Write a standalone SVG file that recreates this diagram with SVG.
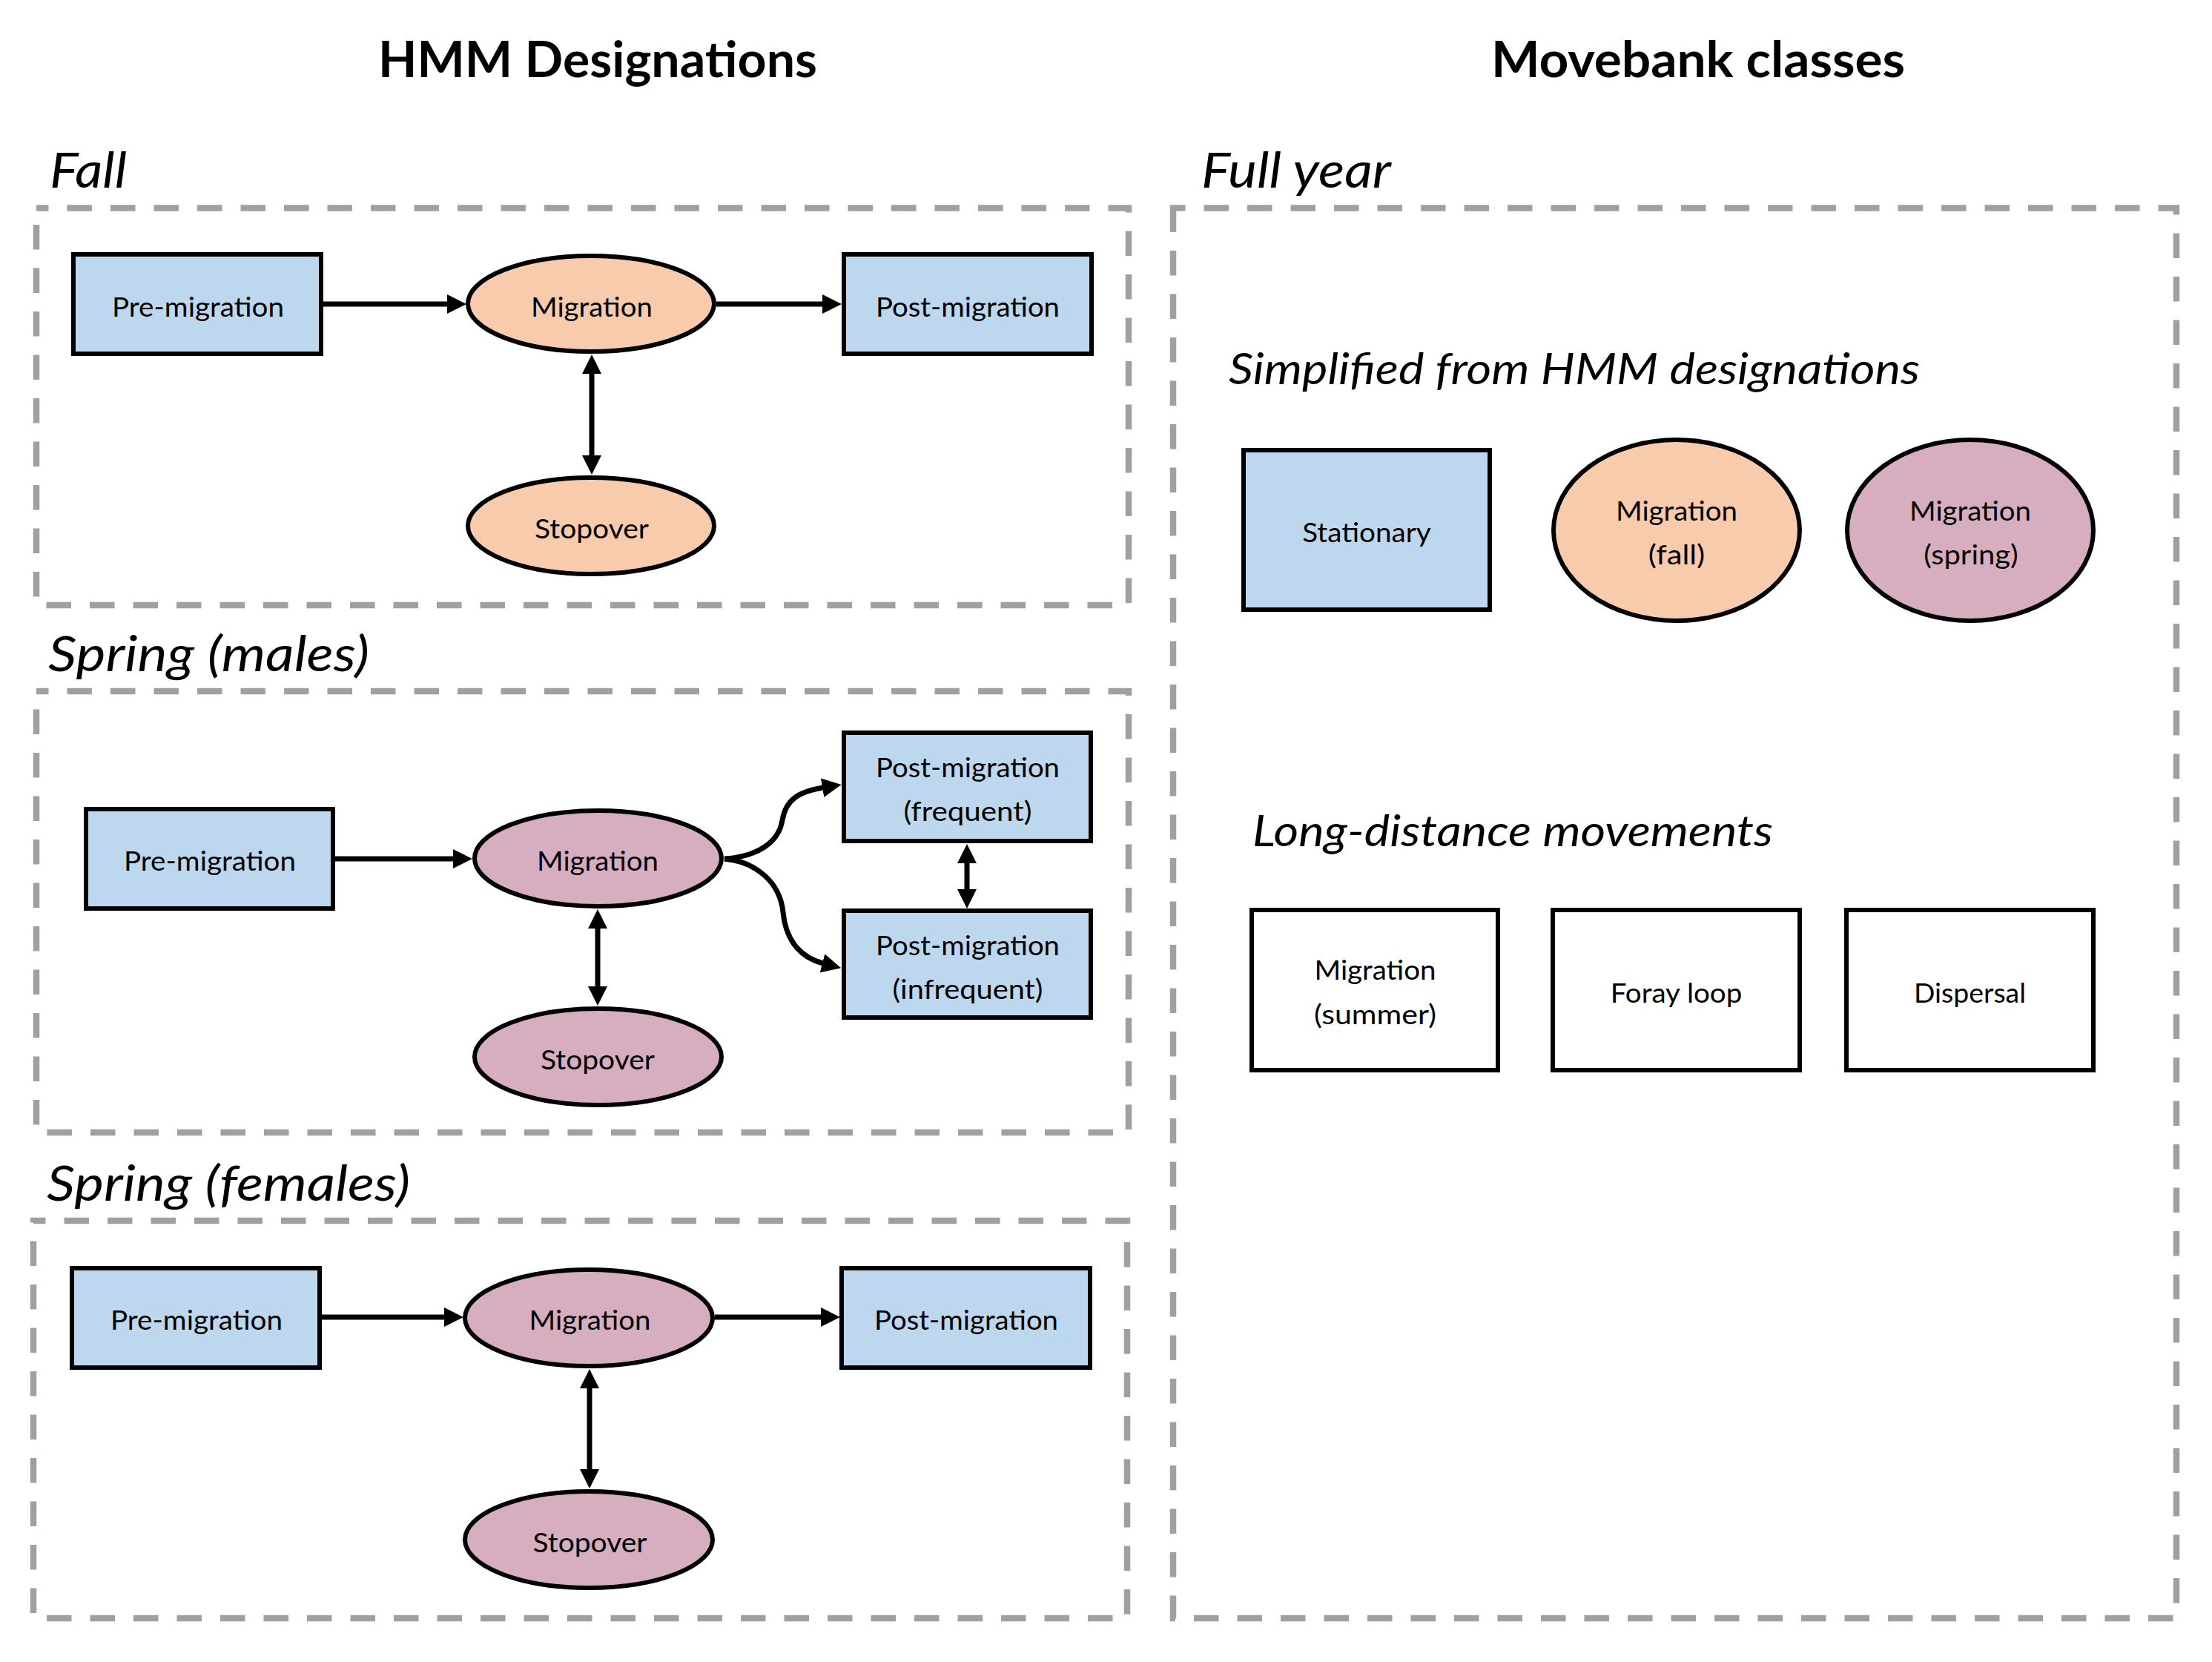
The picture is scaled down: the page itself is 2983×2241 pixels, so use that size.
<svg xmlns="http://www.w3.org/2000/svg" width="2983" height="2241" viewBox="0 0 2983 2241">
<defs>
<style>
.bg{fill:#ffffff}
.box{fill:none;stroke:#a0a0a0;stroke-width:8.5;stroke-dasharray:33.5 25;stroke-dashoffset:17}
.node{stroke:#000000;stroke-width:6}
.blue{fill:#bdd7ee}
.orange{fill:#f8cbad}
.mauve{fill:#d7adc0}
.white{fill:#ffffff}
.lbl{font-family:Lato,'Liberation Sans',sans-serif;font-size:37px;fill:#000000;text-anchor:middle}
.title{font-family:Lato,'Liberation Sans',sans-serif;font-weight:bold;font-size:66px;fill:#000000;text-anchor:middle}
.sec{font-family:Lato,'Liberation Sans',sans-serif;font-style:italic;font-size:66px;fill:#000000}
.sub{font-family:Lato,'Liberation Sans',sans-serif;font-style:italic;font-size:59px;fill:#000000}
.conn{fill:none;stroke:#000000;stroke-width:7}
</style>
<marker id="ah" markerUnits="userSpaceOnUse" markerWidth="26" markerHeight="26" viewBox="0 0 25 25" refX="1" refY="12.5" orient="auto-start-reverse">
<path d="M0,0 L25,12.5 L0,25 z" fill="#000000"/>
</marker>
</defs>
<rect class="bg" x="0" y="0" width="2983" height="2241"/>

<g id="titles">
<text class="title" x="806" y="104" textLength="592" lengthAdjust="spacingAndGlyphs">HMM Designations</text>
<text class="title" x="2290" y="104" textLength="558" lengthAdjust="spacingAndGlyphs">Movebank classes</text>
</g>

<g id="group-fall">
<text class="sec" x="67" y="253" textLength="104" lengthAdjust="spacingAndGlyphs">Fall</text>
<rect class="box" x="49" y="280.5" width="1473" height="535.5"/>
</g>
<g id="group-spring-males">
<text class="sec" x="65" y="905" textLength="433" lengthAdjust="spacingAndGlyphs">Spring (males)</text>
<rect class="box" x="49" y="932" width="1473" height="595"/>
</g>
<g id="group-spring-females">
<text class="sec" x="63" y="1619" textLength="490" lengthAdjust="spacingAndGlyphs">Spring (females)</text>
<rect class="box" x="45" y="1646" width="1475" height="536"/>
</g>
<g id="group-full-year">
<text class="sec" x="1620" y="253" textLength="256" lengthAdjust="spacingAndGlyphs">Full year</text>
<rect class="box" x="1582" y="280.5" width="1353" height="1901.5"/>
<text class="sub" x="1657" y="518" textLength="932" lengthAdjust="spacingAndGlyphs">Simplified from HMM designations</text>
<text class="sub" x="1689" y="1141" textLength="702" lengthAdjust="spacingAndGlyphs">Long-distance movements</text>
</g>

<g id="connectors">
<path class="conn" d="M436,410 H604" marker-end="url(#ah)"/>
<path class="conn" d="M966,410 H1110" marker-end="url(#ah)"/>
<path class="conn" d="M798,503 V615" marker-start="url(#ah)" marker-end="url(#ah)"/>
<path class="conn" d="M452,1158 H612" marker-end="url(#ah)"/>
<path class="conn" d="M806,1251 V1331" marker-start="url(#ah)" marker-end="url(#ah)"/>
<path class="conn" d="M1304,1163 V1200" marker-start="url(#ah)" marker-end="url(#ah)"/>
<path class="conn" d="M977,1158 C1020,1155 1050,1137 1055,1106 C1060,1076 1080,1067 1110,1062" marker-end="url(#ah)"/>
<path class="conn" d="M977,1158 C1020,1162 1052,1190 1056,1230 C1060,1272 1083,1292 1110,1299" marker-end="url(#ah)"/>
<path class="conn" d="M434,1776 H600" marker-end="url(#ah)"/>
<path class="conn" d="M964,1776 H1108" marker-end="url(#ah)"/>
<path class="conn" d="M795,1871 V1982" marker-start="url(#ah)" marker-end="url(#ah)"/>
</g>

<g id="fall-pre">
<rect class="node blue" x="99" y="343" width="334" height="134"/>
<text class="lbl" x="267" y="426.5" textLength="232" lengthAdjust="spacingAndGlyphs">Pre-migration</text>
</g>
<g id="fall-migration">
<ellipse class="node orange" cx="797" cy="409.5" rx="166" ry="64.5"/>
<text class="lbl" x="798" y="426.5" textLength="164" lengthAdjust="spacingAndGlyphs">Migration</text>
</g>
<g id="fall-post">
<rect class="node blue" x="1138" y="343" width="334" height="134"/>
<text class="lbl" x="1305" y="426.5" textLength="248" lengthAdjust="spacingAndGlyphs">Post-migration</text>
</g>
<g id="fall-stopover">
<ellipse class="node orange" cx="797" cy="709" rx="166" ry="65"/>
<text class="lbl" x="798" y="725.5" textLength="154" lengthAdjust="spacingAndGlyphs">Stopover</text>
</g>

<g id="males-pre">
<rect class="node blue" x="116" y="1091" width="333" height="134"/>
<text class="lbl" x="283" y="1174" textLength="232" lengthAdjust="spacingAndGlyphs">Pre-migration</text>
</g>
<g id="males-migration">
<ellipse class="node mauve" cx="806.5" cy="1157.5" rx="166.5" ry="64.5"/>
<text class="lbl" x="806" y="1174" textLength="164" lengthAdjust="spacingAndGlyphs">Migration</text>
</g>
<g id="males-post-frequent">
<rect class="node blue" x="1138" y="988" width="333" height="146"/>
<text class="lbl" x="1305" y="1048" textLength="248" lengthAdjust="spacingAndGlyphs">Post-migration</text>
<text class="lbl" x="1305" y="1107" textLength="173" lengthAdjust="spacingAndGlyphs">(frequent)</text>
</g>
<g id="males-post-infrequent">
<rect class="node blue" x="1138" y="1228" width="333" height="144"/>
<text class="lbl" x="1305" y="1288" textLength="248" lengthAdjust="spacingAndGlyphs">Post-migration</text>
<text class="lbl" x="1305" y="1347" textLength="203" lengthAdjust="spacingAndGlyphs">(infrequent)</text>
</g>
<g id="males-stopover">
<ellipse class="node mauve" cx="806.5" cy="1425" rx="166.5" ry="65"/>
<text class="lbl" x="806" y="1441.5" textLength="154" lengthAdjust="spacingAndGlyphs">Stopover</text>
</g>

<g id="females-pre">
<rect class="node blue" x="97" y="1710" width="334" height="134"/>
<text class="lbl" x="265" y="1793" textLength="232" lengthAdjust="spacingAndGlyphs">Pre-migration</text>
</g>
<g id="females-migration">
<ellipse class="node mauve" cx="794" cy="1777" rx="167" ry="65"/>
<text class="lbl" x="795.5" y="1793" textLength="164" lengthAdjust="spacingAndGlyphs">Migration</text>
</g>
<g id="females-post">
<rect class="node blue" x="1135" y="1710" width="335" height="134"/>
<text class="lbl" x="1303" y="1793" textLength="248" lengthAdjust="spacingAndGlyphs">Post-migration</text>
</g>
<g id="females-stopover">
<ellipse class="node mauve" cx="794" cy="2076" rx="167" ry="65"/>
<text class="lbl" x="795.5" y="2092.5" textLength="154" lengthAdjust="spacingAndGlyphs">Stopover</text>
</g>

<g id="class-stationary">
<rect class="node blue" x="1677" y="607" width="332" height="215"/>
<text class="lbl" x="1843" y="731" textLength="173.5" lengthAdjust="spacingAndGlyphs">Stationary</text>
</g>
<g id="class-migration-fall">
<ellipse class="node orange" cx="2261" cy="715" rx="166" ry="122"/>
<text class="lbl" x="2261" y="702" textLength="164" lengthAdjust="spacingAndGlyphs">Migration</text>
<text class="lbl" x="2261" y="761" textLength="76.5" lengthAdjust="spacingAndGlyphs">(fall)</text>
</g>
<g id="class-migration-spring">
<ellipse class="node mauve" cx="2657" cy="715" rx="166" ry="122"/>
<text class="lbl" x="2657" y="702" textLength="164" lengthAdjust="spacingAndGlyphs">Migration</text>
<text class="lbl" x="2658" y="761" textLength="127.5" lengthAdjust="spacingAndGlyphs">(spring)</text>
</g>
<g id="class-migration-summer">
<rect class="node white" x="1688" y="1227" width="332" height="216"/>
<text class="lbl" x="1854.5" y="1321" textLength="164" lengthAdjust="spacingAndGlyphs">Migration</text>
<text class="lbl" x="1854.5" y="1381" textLength="165" lengthAdjust="spacingAndGlyphs">(summer)</text>
</g>
<g id="class-foray-loop">
<rect class="node white" x="2094" y="1227" width="333" height="216"/>
<text class="lbl" x="2260.5" y="1352" textLength="177.5" lengthAdjust="spacingAndGlyphs">Foray loop</text>
</g>
<g id="class-dispersal">
<rect class="node white" x="2490" y="1227" width="333" height="216"/>
<text class="lbl" x="2656.5" y="1352" textLength="151" lengthAdjust="spacingAndGlyphs">Dispersal</text>
</g>
</svg>
